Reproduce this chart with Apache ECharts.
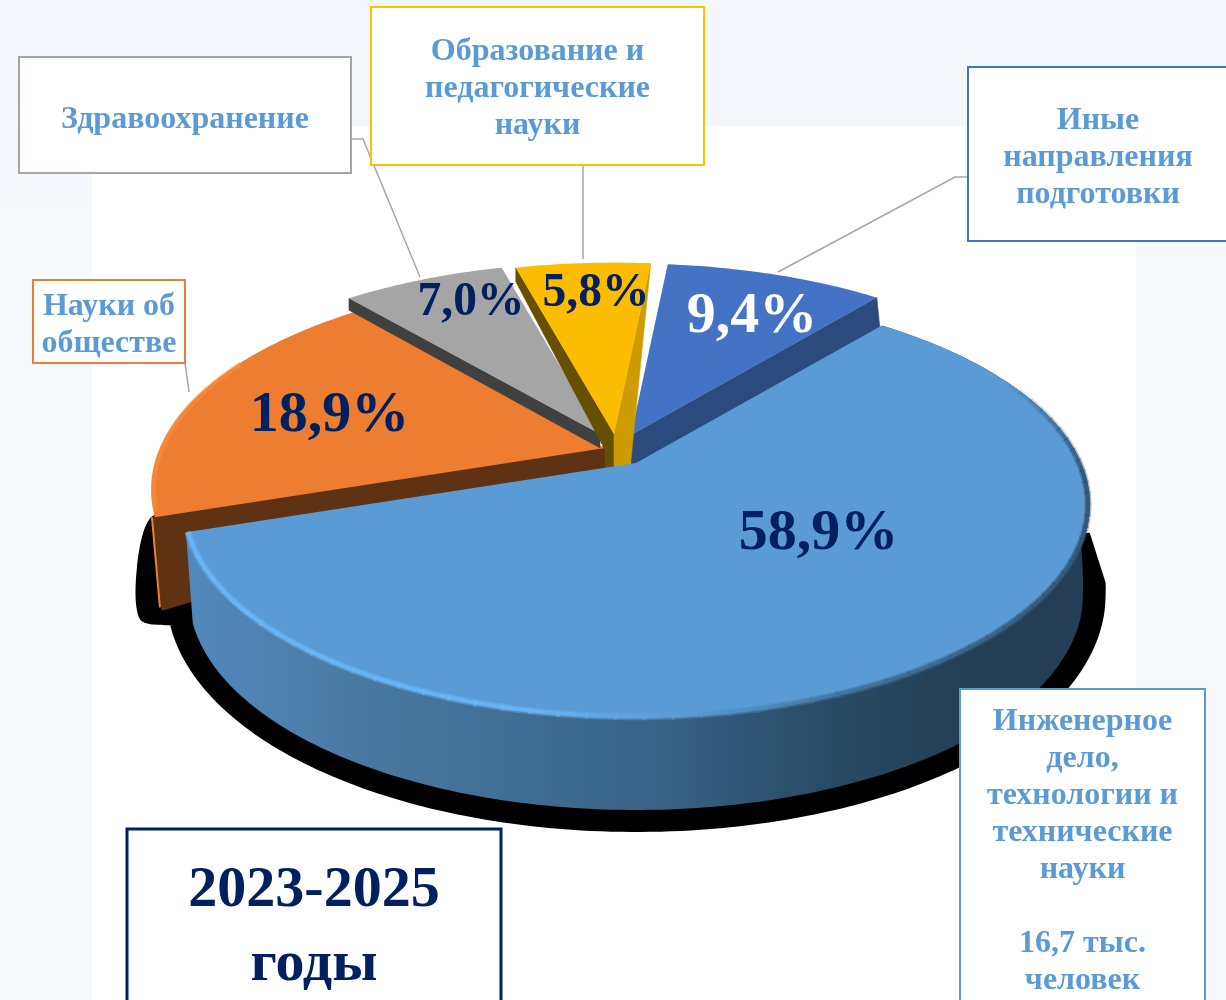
<!DOCTYPE html>
<html><head><meta charset="utf-8">
<style>html,body{margin:0;padding:0;background:#fff}#c{width:1226px;height:1000px}</style>
<script src="https://cdn.jsdelivr.net/npm/echarts@6/dist/echarts.min.js"></script>
</head><body><div id="c"></div>
<script>
// ---- data ----
const categories = ['Инженерное дело, технологии и технические науки','Науки об обществе','Здравоохранение','Образование и педагогические науки','Иные направления подготовки'];
const shares = [58.9, 18.9, 7.0, 5.8, 9.4];
const periodLabel = '2023-2025\nгоды';
const headcountNote = '16,7 тыс.\nчеловек';

// ---- layout & style (not data) ----
const PIE = {cx:636, cy:463, rx:445, ry:205, k:0.196, start:39.5};
const SERIF = '"Liberation Serif","Times New Roman",serif';
const explode = [[0,0],[-31,-15],[-36,-29],[-22,-29],[-5,-28]];
const drawOrder = [5,1,2,4,3];
const topColors = ['#5b9bd5','#ed7d31','#a5a5a5','#fcbd00','#4472c4'];
const pctStyle = [
  {x:818.5,y:534,size:58,fill:'#002060'},
  {x:329.5,y:416,size:58,fill:'#002060'},
  {x:471,y:303,size:47.5,fill:'#002060'},
  {x:596,y:294,size:47.5,fill:'#002060'},
  {x:752,y:317,size:58,fill:'#ffffff'}
];
// flat radial walls of each slice: which edge (0 = start, 1 = end), depth at the rim, outline offsets from the tip
const walls = [
  [],
  [{edge:0,rimD:91,rimDx:8,tip:[[0,18],[-380,142]],fill:'#5f3214'}],
  [{edge:0,rimD:12,rimDx:0,tip:[[0,14]],fill:'#404040'}],
  [{edge:0,rimD:14,rimDx:0,tip:[[0,36],[-9,36],[-9,16]],fill:'#665000'},
   {edge:1,rimD:0,rimDx:0,tip:[[0,36],[16,36]],fill:'#cf9c00'}],
  [{edge:1,rimD:30,rimDx:3,tip:[[0,42]],fill:'#2b4a7e'}]
];
const boxes = [
  {x:19,y:57,w:332,h:116,stroke:'#a5a5a5',cat:2,text:'Здравоохранение',ty:120},
  {x:371,y:7,w:333,h:158,stroke:'#ffc000',cat:3,text:'Образование и\nпедагогические\nнауки',ty:89},
  {x:968,y:67,w:262,h:174,stroke:'#4472c4',cat:4,text:'Иные\nнаправления\nподготовки',ty:158,tx:1098},
  {x:33,y:280,w:152,h:83,stroke:'#ed7d31',cat:1,text:'Науки об\nобществе',ty:325.5},
  {x:960,y:689,w:245,h:330,stroke:'#5b9bd5',cat:0,text:'Инженерное\nдело,\nтехнологии и\nтехнические\nнауки\n\n'+headcountNote,ty:851}
];
const leaders = [
  [[351,139],[363,139],[420,277]],
  [[583,165],[583,259]],
  [[968,177],[955,177],[778,272]],
  [[185,363],[189,392]]
];

// ---- geometry ----
const edges = []; { let c = 0; for (const v of shares) { edges.push([PIE.start+c*3.6, PIE.start+(c+v)*3.6]); c += v; } }
function rim(a, r){ r = r===undefined?1:r; const t=a*Math.PI/180, x=Math.sin(t)*r, y=-Math.cos(t)*r, s=1/(1-PIE.k*y);
  return {X:PIE.cx+PIE.rx*x*s, Y:PIE.cy+PIE.ry*y*s, y}; }
function depth(y){ const t=Math.min(1,Math.max(0,y)/0.3); return 28+62*Math.sin(t*Math.PI/2)+2*Math.max(0,y); }
function arc(a0,a1,r,dx,dy){ const p=[]; for(let a=a0;;a=Math.min(a+1,a1)){ const q=rim(a,r); p.push([q.X+(dx||0),q.Y+(dy||0)]); if(a>=a1)break;} return p; }
const G = echarts.graphic;
function hGrad(stops){ return new G.LinearGradient(0,0,1,0,stops.map(s=>({offset:s[0],color:s[1]}))); }

function renderItem(params, api){
  const i = params.dataIndex, o = drawOrder[i]*100, [sx,sy]=explode[i], [a0,a1]=edges[i];
  const tip=[PIE.cx+sx,PIE.cy+sy], kids=[];
  const poly=(pts,style,z)=>kids.push({type:'polygon',shape:{points:pts},style,z2:o+z,silent:true});
  const line=(pts,style,z)=>kids.push({type:'polyline',shape:{points:pts},style:Object.assign({fill:null,lineJoin:'round',lineCap:'butt'},style),z2:o+z,silent:true});
  if(i===0){
    // outer wall of the big slice and its hard black shadow
    const bottom=[], shadow=[];
    for(let a=a0;a<=a1+0.01;a+=1){ const q=rim(a); const D=depth(q.y);
      const bx=PIE.cx+(q.X-PIE.cx)*0.985, by=q.Y+D; bottom.push([bx,by]);
      if(a>=100){
        if(!shadow.length) shadow.push([q.X,by-48]);
        shadow.push([PIE.cx+(q.X-PIE.cx)*1.035, by+2+20*Math.max(0,q.y-0.3)/0.7]);
      } }
    kids.push({type:'polygon',shape:{points:shadow},style:{fill:'#000'},z2:-500,silent:true});
    poly(arc(a0,a1).concat(bottom.slice().reverse()),{fill:hGrad([[0,'#5289bc'],[0.22,'#47779f'],[0.5,'#3a6489'],[0.72,'#284a63'],[0.86,'#243f55'],[1,'#243f55']])},0);
  }
  if(i===1){
    // orange: shadow blob and light outer strip
    const c=rim(a0); const cx=c.X+sx, cy=c.Y+sy;
    kids.push({type:'polygon',shape:{points:[[cx-4,cy],[cx-18,cy+50],[cx-15,cy+102],[cx+14,cy+108],[cx+60,cy+105],[cx+30,cy]],smooth:0.3},style:{fill:'#000'},z2:-400,silent:true});
    line([[cx-2,cy],[cx+6,cy+90]],{stroke:'#f0812f',lineWidth:4},0);
  }
  for(const w of walls[i]){
    const q=rim(edges[i][w.edge]); const rx=q.X+sx, ry=q.Y+sy;
    const pts=[[rx,ry],tip.slice()].concat(w.tip.map(t=>[tip[0]+t[0],tip[1]+t[1]])).concat([[rx+w.rimDx,ry+w.rimD]]);
    poly(pts,{fill:w.fill,stroke:w.fill,lineWidth:i===1?4:0.5,lineJoin:'round'},1);
  }
  poly([tip].concat(arc(a0,a1,1,sx,sy)),{fill:topColors[i]},5);
  if(i===0){
    // soft bevel along the rim, fading in from the right-hand back
    const g=new G.LinearGradient(186,0,1095,0,[{offset:0,color:'#6ab8fa'},{offset:0.38,color:'#6ab8fa'},{offset:0.55,color:'#5b9bd5'},{offset:0.72,color:'#3f6f97'},{offset:1,color:'#2b4c68'}],true);
    for(let a=Math.max(a0,62);a<a1;a+=3){
      const f=Math.min(1,(a-62)/30), seg=arc(a,Math.min(a+3.3,a1),0.996);
      line(seg,{stroke:g,lineWidth:7,opacity:0.4*f},6);
      line(seg,{stroke:g,lineWidth:4,opacity:0.75*f},7);
    }
  }
  if(i===1){
    line(arc(a0+2,a0+45,0.995,sx,sy),{stroke:'#ff8f3c',lineWidth:5,opacity:0.55},6);
  }
  const p=pctStyle[i];
  kids.push({type:'text',silent:true,z2:900,style:{text:api.value(0).toFixed(1).replace('.',',')+'%',x:p.x,y:p.y,fill:p.fill,align:'center',verticalAlign:'middle',font:'bold '+p.size+'px '+SERIF}});
  return {type:'group',children:kids};
}

const graphicEls = [
  {type:'rect',z:-5,silent:true,shape:{x:0,y:0,width:1226,height:1000},style:{fill:new G.LinearGradient(0,0,0,1,[{offset:0,color:'#f3f6fb'},{offset:0.12,color:'#f4f7fc'},{offset:0.25,color:'#f6fafd'},{offset:1,color:'#f6fafd'}])}},
  {type:'rect',z:-4,silent:true,shape:{x:92,y:0,width:1044,height:126},style:{fill:'#f3f7fc'}},
  {type:'rect',z:-3,silent:true,shape:{x:92,y:126,width:1044,height:874},style:{fill:'#ffffff'}}
];
for(const l of leaders) graphicEls.push({type:'polyline',z:3,silent:true,shape:{points:l},style:{fill:null,stroke:'#a6a6a6',lineWidth:1.5}});
for(const b of boxes){
  graphicEls.push({type:'rect',z:5,silent:true,shape:{x:b.x,y:b.y,width:b.w,height:b.h},style:{fill:'#fff',stroke:b.stroke,lineWidth:2}});
  graphicEls.push({type:'text',z:6,silent:true,style:{text:b.text,x:b.tx||(b.x+b.w/2),y:b.ty,fill:'#5b9bd5',align:'center',verticalAlign:'middle',font:'bold 32px '+SERIF,lineHeight:37}});
}
graphicEls.push({type:'rect',z:5,silent:true,shape:{x:127,y:829,width:374,height:190},style:{fill:'#fff',stroke:'#002060',lineWidth:3}});
graphicEls.push({type:'text',z:6,silent:true,style:{text:periodLabel,x:314,y:928,fill:'#002060',align:'center',verticalAlign:'middle',font:'bold 58px '+SERIF,lineHeight:74}});

const chart = echarts.init(document.getElementById('c'),null,{renderer:'canvas',width:1226,height:1000});
chart.setOption({
  animation:false,
  graphic:{elements:graphicEls},
  series:[{type:'custom',coordinateSystem:'none',z:2,renderItem,clip:false,silent:true,
    encode:{value:0},
    data:shares.map((v,i)=>({name:categories[i],value:[v]}))}]
});
</script></body></html>
